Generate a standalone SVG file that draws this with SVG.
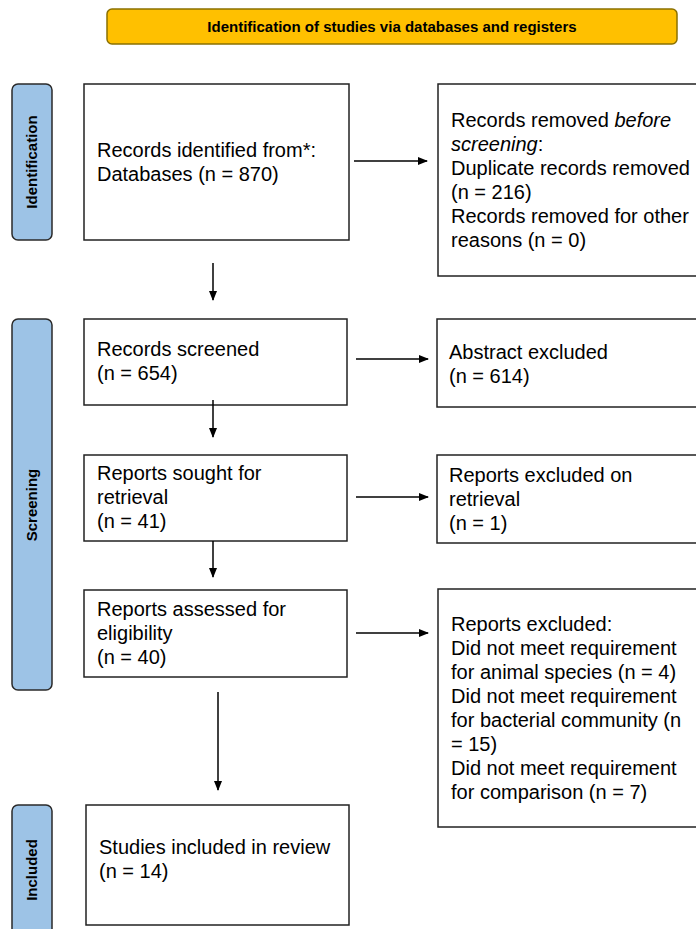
<svg xmlns="http://www.w3.org/2000/svg" width="696" height="929" viewBox="0 0 696 929">
<style>
text{font-family:"Liberation Sans",Arial,sans-serif;fill:#000}
.box{fill:#fff;stroke:#222;stroke-width:1.5}
.side{fill:#9DC3E6;stroke:#2a2a2a;stroke-width:1.5}
.t{font-size:20px}
.lab{font-size:15px;font-weight:bold}
.c{stroke:#000;stroke-width:1.5;fill:none}
</style>
<defs>
<marker id="ah" markerWidth="10" markerHeight="8" refX="9" refY="4" orient="auto" markerUnits="userSpaceOnUse">
<path d="M0,0 L10,4 L0,8 Z" fill="#000"/>
</marker>
</defs>
<rect width="696" height="929" fill="#fff"/>
<g id="banner">
<rect x="107" y="9" width="570" height="35" rx="5" fill="#FFC000" stroke="#8B7000" stroke-width="1.5"/>
<text x="392" y="32" text-anchor="middle" class="lab">Identification of studies via databases and registers</text>
</g>
<g id="side-identification">
<rect class="side" x="12" y="84" width="40" height="156" rx="6"/>
<text class="lab" transform="translate(37,162) rotate(-90)" text-anchor="middle">Identification</text>
</g>
<g id="side-screening">
<rect class="side" x="12" y="319" width="40" height="371" rx="6"/>
<text class="lab" transform="translate(37,505) rotate(-90)" text-anchor="middle">Screening</text>
</g>
<g id="side-included">
<rect class="side" x="12" y="805" width="40" height="140" rx="6"/>
<text class="lab" transform="translate(37,870) rotate(-90)" text-anchor="middle">Included</text>
</g>
<g id="records-identified">
<rect class="box" x="84" y="84" width="265" height="156"/>
<text class="t" x="97" y="157">Records identified from*:</text>
<text class="t" x="97" y="181">Databases (n = 870)</text>
</g>
<g id="records-removed">
<rect class="box" x="438" y="84" width="270" height="192"/>
<text class="t" x="451" y="127">Records removed <tspan font-style="italic">before</tspan></text>
<text class="t" x="451" y="151"><tspan font-style="italic">screening</tspan>:</text>
<text class="t" x="451" y="175">Duplicate records removed</text>
<text class="t" x="451" y="199">(n = 216)</text>
<text class="t" x="451" y="223">Records removed for other</text>
<text class="t" x="451" y="247">reasons (n = 0)</text>
</g>
<g id="records-screened">
<rect class="box" x="84" y="319" width="263" height="86"/>
<text class="t" x="97" y="356">Records screened</text>
<text class="t" x="97" y="380">(n = 654)</text>
</g>
<g id="abstract-excluded">
<rect class="box" x="437" y="319" width="270" height="88"/>
<text class="t" x="449" y="359">Abstract excluded</text>
<text class="t" x="449" y="383">(n = 614)</text>
</g>
<g id="reports-sought">
<rect class="box" x="84" y="455" width="263" height="86"/>
<text class="t" x="97" y="480">Reports sought for</text>
<text class="t" x="97" y="504">retrieval</text>
<text class="t" x="97" y="528">(n = 41)</text>
</g>
<g id="reports-not-retrieved">
<rect class="box" x="437" y="455" width="270" height="88"/>
<text class="t" x="449" y="482">Reports excluded on</text>
<text class="t" x="449" y="506">retrieval</text>
<text class="t" x="449" y="530">(n = 1)</text>
</g>
<g id="reports-assessed">
<rect class="box" x="84" y="590" width="263" height="87"/>
<text class="t" x="97" y="616">Reports assessed for</text>
<text class="t" x="97" y="640">eligibility</text>
<text class="t" x="97" y="664">(n = 40)</text>
</g>
<g id="reports-excluded">
<rect class="box" x="438" y="589" width="270" height="238"/>
<text class="t" x="451" y="631">Reports excluded:</text>
<text class="t" x="451" y="655">Did not meet requirement</text>
<text class="t" x="451" y="679">for animal species (n = 4)</text>
<text class="t" x="451" y="703">Did not meet requirement</text>
<text class="t" x="451" y="727">for bacterial community (n</text>
<text class="t" x="451" y="751">= 15)</text>
<text class="t" x="451" y="775">Did not meet requirement</text>
<text class="t" x="451" y="799">for comparison (n = 7)</text>
</g>
<g id="studies-included">
<rect class="box" x="86" y="805" width="263" height="120"/>
<text class="t" x="99" y="854">Studies included in review</text>
<text class="t" x="99" y="878">(n = 14)</text>
</g>
<g id="connectors">
<line class="c" x1="354" y1="161" x2="427" y2="161" marker-end="url(#ah)"/>
<line class="c" x1="213" y1="263" x2="213" y2="300" marker-end="url(#ah)"/>
<line class="c" x1="356" y1="359" x2="428" y2="359" marker-end="url(#ah)"/>
<line class="c" x1="213" y1="400" x2="213" y2="437" marker-end="url(#ah)"/>
<line class="c" x1="356" y1="497" x2="428" y2="497" marker-end="url(#ah)"/>
<line class="c" x1="213" y1="541" x2="213" y2="577" marker-end="url(#ah)"/>
<line class="c" x1="356" y1="633" x2="428" y2="633" marker-end="url(#ah)"/>
<line class="c" x1="218" y1="692" x2="218" y2="790" marker-end="url(#ah)"/>
</g>
</svg>
